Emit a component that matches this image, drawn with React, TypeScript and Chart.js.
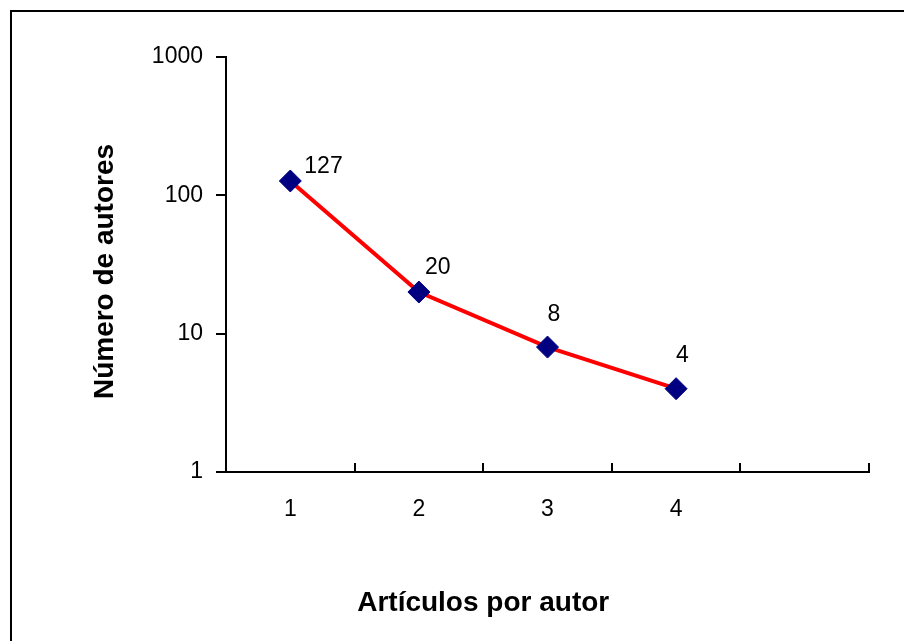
import { useEffect, useRef } from 'react';
import { Chart, registerables } from 'chart.js';

Chart.register(...registerables);

// ---- data ----
const categories = ['1', '2', '3', '4', ''];
const authors: (number | null)[] = [127, 20, 8, 4, null];
const yTickValues = [1, 10, 100, 1000];
const xTitle = 'Artículos por autor';
const yTitle = 'Número de autores';

// ---- styling (label placement relative to each point, px) ----
const labelOffsets: [number, number][] = [
  [14, -14],
  [6, -24],
  [0, -32],
  [0, -33],
];

const FAMILY = '"Liberation Sans", Arial, Helvetica, sans-serif';
const TICK_SIZE = 23;
const TITLE_FONT = `bold 28px ${FAMILY}`;

const framePlugin = {
  id: 'frame',
  beforeDraw(chart: any) {
    const { ctx, width, height } = chart;
    ctx.save();
    ctx.fillStyle = '#ffffff';
    ctx.fillRect(0, 0, width, height);
    ctx.strokeStyle = '#000000';
    ctx.lineWidth = 2;
    ctx.strokeRect(11, 11, width + 20, height + 20);
    ctx.restore();
  },
};

const titlesPlugin = {
  id: 'axisTitles',
  afterDraw(chart: any) {
    const { ctx, chartArea } = chart;
    const xs = chart.scales.x;
    const filled = categories.map((c, i) => (c !== '' ? i : -1)).filter((i) => i >= 0);
    const cx =
      (xs.getPixelForValue(filled[0]) + xs.getPixelForValue(filled[filled.length - 1])) / 2;
    ctx.save();
    ctx.fillStyle = '#000000';
    ctx.font = TITLE_FONT;
    ctx.textAlign = 'center';
    ctx.textBaseline = 'middle';
    ctx.fillText(xTitle, cx, chart.height - 38);
    ctx.translate(105, (chartArea.top + chartArea.bottom) / 2 + 7);
    ctx.rotate(-Math.PI / 2);
    ctx.fillText(yTitle, 0, 0);
    ctx.restore();
  },
};

const dataLabelPlugin = {
  id: 'dataLabels',
  afterDatasetsDraw(chart: any) {
    const ctx = chart.ctx;
    const meta = chart.getDatasetMeta(0);
    ctx.save();
    ctx.font = `${TICK_SIZE}px ${FAMILY}`;
    ctx.fillStyle = '#000000';
    ctx.textAlign = 'left';
    ctx.textBaseline = 'middle';
    meta.data.forEach((pt: any, i: number) => {
      const v = authors[i];
      if (v == null) return;
      const off = labelOffsets[i] || [0, -30];
      ctx.fillText(String(v), pt.x + off[0], pt.y + off[1]);
    });
    ctx.restore();
  },
};

export default function App() {
  const ref = useRef<HTMLCanvasElement | null>(null);

  useEffect(() => {
    if (!ref.current) return;
    const chart = new Chart(ref.current, {
      type: 'line',
      data: {
        labels: categories,
        datasets: [
          {
            data: authors as any,
            borderColor: '#ff0000',
            borderWidth: 4,
            tension: 0,
            pointStyle: 'rectRot',
            pointRadius: 11,
            pointBorderWidth: 1,
            pointBackgroundColor: '#000080',
            pointBorderColor: '#000080',
            spanGaps: false,
          },
        ],
      },
      options: {
        responsive: false,
        animation: false,
        layout: { padding: { top: 57, right: 35, bottom: 0, left: 0 } },
        plugins: {
          legend: { display: false },
          tooltip: { enabled: false },
        },
        scales: {
          x: {
            type: 'category',
            offset: true,
            afterFit: (s: any) => {
              s.height = 169;
              s.paddingLeft = 0;
              s.paddingRight = 0;
            },
            ticks: {
              color: '#000000',
              font: { family: FAMILY, size: TICK_SIZE },
              padding: 33,
              maxRotation: 0,
              autoSkip: false,
            },
            grid: {
              offset: true,
              drawOnChartArea: false,
              drawTicks: true,
              tickLength: -9,
              color: '#000000',
              lineWidth: 2,
            },
            border: { display: true, color: '#000000', width: 2 },
            title: { display: false },
          },
          y: {
            type: 'logarithmic',
            min: 1,
            max: 1000,
            afterBuildTicks: (s: any) => {
              s.ticks = yTickValues.map((v) => ({ value: v }));
            },
            afterFit: (s: any) => {
              s.width = 226;
              s.paddingTop = 0;
              s.paddingBottom = 0;
            },
            ticks: {
              color: '#000000',
              font: { family: FAMILY, size: TICK_SIZE },
              padding: 13,
              autoSkip: false,
              callback: (v: any) => String(v),
            },
            grid: {
              drawOnChartArea: false,
              drawTicks: true,
              tickLength: 10,
              color: '#000000',
              lineWidth: 2,
            },
            border: { display: true, color: '#000000', width: 2 },
            title: { display: false },
          },
        },
      } as any,
      plugins: [framePlugin, dataLabelPlugin, titlesPlugin],
    });
    return () => chart.destroy();
  }, []);

  return (
    <div style={{ position: 'absolute', left: 0, top: 0, width: 904, height: 641 }}>
      <canvas ref={ref} width={904} height={641} style={{ display: 'block' }} />
    </div>
  );
}
